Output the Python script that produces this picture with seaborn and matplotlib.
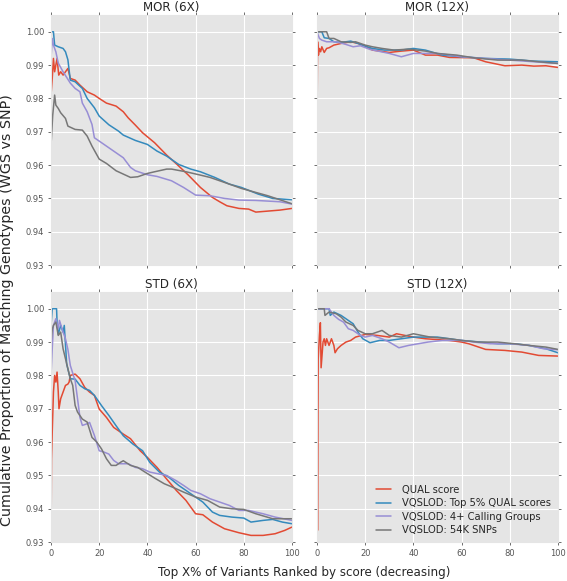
import matplotlib

matplotlib.use("Agg")
import matplotlib.pyplot as plt
import pandas as pd
import seaborn as sns

# ---------------------------------------------------
# Data
# ---------------------------------------------------
METHODS = [
    "QUAL score",
    "VQSLOD: Top 5% QUAL scores",
    "VQSLOD: 4+ Calling Groups",
    "VQSLOD: 54K SNPs",
]
COLORS = ["#E24A33", "#348ABD", "#988ED5", "#777777"]
PANELS = ["MOR (6X)", "MOR (12X)", "STD (6X)", "STD (12X)"]
X_TICKS = [0, 20, 40, 60, 80, 100]
Y_TICKS = [0.93, 0.94, 0.95, 0.96, 0.97, 0.98, 0.99, 1.00]

# MOR (6X)
MOR6_QUAL_X = [0, 0.5, 1, 1.5, 2, 2.5, 3.2, 4, 5, 7, 8, 10, 12, 15, 18, 20, 23, 27, 30, 32,
               35, 38, 43, 48, 52, 57, 62, 67, 70, 73, 78, 82, 85, 90, 95, 100]
MOR6_QUAL_Y = [0.981, 0.986, 0.992, 0.988, 0.990, 0.992, 0.987, 0.988, 0.987, 0.989, 0.986,
               0.9855, 0.984, 0.982, 0.981, 0.980, 0.9786, 0.9777, 0.976, 0.9742, 0.972,
               0.9697, 0.9667, 0.963, 0.9604, 0.957, 0.9533, 0.9503, 0.949, 0.9478, 0.947,
               0.9468, 0.9459, 0.9462, 0.9465, 0.947]
MOR6_TOP5_X = [0, 1, 1.5, 3, 5, 6, 7, 8, 10, 13, 15, 18, 20, 24, 28, 30, 35, 40, 44, 48, 53,
               58, 62, 68, 74, 79, 86, 92, 100]
MOR6_TOP5_Y = [1.000, 1.000, 0.996, 0.9955, 0.995, 0.994, 0.9916, 0.9855, 0.985, 0.983, 0.980,
               0.9772, 0.9747, 0.9721, 0.9702, 0.969, 0.9674, 0.9662, 0.9642, 0.9627, 0.9602,
               0.9588, 0.958, 0.9563, 0.9543, 0.9533, 0.9513, 0.950, 0.9496]
MOR6_CALL_X = [0, 0.5, 1, 2, 3, 5, 8, 10, 12, 13, 15, 17, 18, 21, 25, 30, 33, 35, 40, 44, 50,
               55, 60, 66, 72, 78, 85, 95, 100]
MOR6_CALL_Y = [0.992, 0.998, 0.996, 0.994, 0.9906, 0.988, 0.9846, 0.983, 0.982, 0.9786, 0.976,
               0.9722, 0.9682, 0.9667, 0.9647, 0.9622, 0.9593, 0.9583, 0.9571, 0.9566, 0.9553,
               0.9533, 0.951, 0.9508, 0.950, 0.9495, 0.9494, 0.949, 0.9483]
MOR6_SNP_X = [0, 0.7, 1.5, 2, 3, 4, 6, 7, 10, 13, 15, 17, 20, 23, 27, 30, 33, 36, 40, 43, 48,
              50, 56, 62, 66, 70, 74, 79, 84, 90, 100]
MOR6_SNP_Y = [0.966, 0.975, 0.981, 0.978, 0.977, 0.9757, 0.974, 0.9717, 0.9707, 0.9705, 0.9687,
              0.9657, 0.9618, 0.9605, 0.9583, 0.9573, 0.9563, 0.9565, 0.9575, 0.958, 0.9588,
              0.9588, 0.958, 0.957, 0.9563, 0.9553, 0.9543, 0.953, 0.952, 0.9508, 0.9484]

# MOR (12X)
MOR12_QUAL_X = [0, 0.1, 0.25, 0.6, 1, 1.5, 2, 3, 4, 5, 7, 10, 14, 17, 20, 23, 30, 35, 40, 45,
                50, 55, 65, 70, 78, 85, 90, 95, 100]
MOR12_QUAL_Y = [1.0, 0.982, 0.997, 0.993, 0.995, 0.994, 0.9955, 0.9938, 0.995, 0.9952, 0.996,
                0.9965, 0.997, 0.9965, 0.9957, 0.9945, 0.9938, 0.9942, 0.9945, 0.993, 0.993,
                0.9923, 0.9922, 0.991, 0.9898, 0.990, 0.9897, 0.9898, 0.9893]
MOR12_TOP5_X = [0, 2, 3, 5, 7, 10, 14, 17, 20, 23, 28, 35, 40, 45, 52, 60, 70, 80, 90, 100]
MOR12_TOP5_Y = [1.0, 1.0, 0.9982, 0.998, 0.997, 0.9968, 0.9972, 0.9965, 0.9957, 0.995, 0.9945,
                0.9945, 0.995, 0.9945, 0.993, 0.9925, 0.992, 0.9918, 0.9912, 0.991]
MOR12_CALL_X = [0, 1, 2, 4, 8, 12, 15, 18, 22, 30, 35, 40, 50, 60, 70, 80, 90, 100]
MOR12_CALL_Y = [1.0, 0.998, 0.9975, 0.997, 0.997, 0.9962, 0.9955, 0.9958, 0.9947, 0.9935,
                0.9925, 0.9935, 0.9935, 0.9925, 0.992, 0.9915, 0.991, 0.9905]
MOR12_SNP_X = [0, 4, 5, 7, 10, 14, 16, 20, 23, 27, 32, 38, 45, 50, 58, 65, 75, 85, 92, 100]
MOR12_SNP_Y = [1.0, 1.0, 0.998, 0.998, 0.997, 0.9968, 0.997, 0.996, 0.9955, 0.995, 0.9945,
               0.9948, 0.9942, 0.9935, 0.993, 0.9922, 0.9915, 0.9915, 0.991, 0.9905]

# STD (6X)
STD6_QUAL_X = [0, 0.2, 0.5, 1, 1.5, 2, 2.5, 3, 3.3, 4, 5, 6, 7, 7.5, 8, 10, 12, 14, 16, 18,
               20, 23, 26, 30, 33, 37, 40, 44, 48, 52, 56, 60, 63, 67, 72, 78, 83, 88, 93, 97, 100]
STD6_QUAL_Y = [0.929, 0.955, 0.963, 0.975, 0.980, 0.978, 0.981, 0.975, 0.970, 0.973, 0.975,
               0.977, 0.9774, 0.978, 0.980, 0.9804, 0.979, 0.9764, 0.975, 0.974, 0.9699,
               0.9674, 0.9644, 0.9624, 0.961, 0.9574, 0.9554, 0.9524, 0.9489, 0.9455, 0.9425,
               0.9385, 0.9382, 0.936, 0.934, 0.9328, 0.932, 0.932, 0.9325, 0.9335, 0.9345]
STD6_TOP5_X = [0, 0.5, 2.3, 2.5, 3, 4, 5, 5.5, 6.5, 8, 10, 12, 14, 16, 18, 21, 24, 27, 30, 34,
               38, 41, 45, 49, 53, 57, 60, 63, 67, 70, 75, 80, 83, 88, 92, 96, 100]
STD6_TOP5_Y = [0.995, 1.0, 1.0, 0.996, 0.9923, 0.995, 0.993, 0.995, 0.9834, 0.979, 0.9789,
               0.977, 0.976, 0.9755, 0.974, 0.9709, 0.968, 0.9649, 0.9619, 0.9594, 0.9574,
               0.9539, 0.951, 0.9494, 0.947, 0.945, 0.9435, 0.942, 0.939, 0.938, 0.9375,
               0.9372, 0.936, 0.9365, 0.9368, 0.936, 0.9355]
STD6_CALL_X = [0, 0.5, 1, 2, 3, 3.5, 5, 6, 7, 8, 10, 11, 12, 13, 15, 16, 18, 20, 22, 24, 26,
               28, 32, 35, 38, 41, 45, 48, 52, 55, 58, 62, 66, 70, 74, 78, 82, 88, 93, 100]
STD6_CALL_Y = [0.980, 0.988, 0.995, 0.997, 0.994, 0.9965, 0.993, 0.991, 0.9878, 0.983, 0.9784,
               0.973, 0.9674, 0.965, 0.9655, 0.9659, 0.962, 0.9574, 0.957, 0.9564, 0.9545,
               0.9535, 0.9535, 0.9524, 0.952, 0.951, 0.9504, 0.950, 0.9484, 0.947, 0.9455,
               0.9445, 0.943, 0.942, 0.941, 0.9395, 0.9395, 0.9385, 0.9375, 0.9365]
STD6_SNP_X = [0, 0.5, 1, 2, 3, 4, 5, 6, 7, 8, 9, 10, 11, 13, 15, 17, 19, 21, 23, 25, 27, 29,
              30, 33, 36, 39, 43, 47, 51, 55, 60, 65, 70, 75, 80, 85, 92, 100]
STD6_SNP_Y = [0.990, 0.9938, 0.995, 0.996, 0.992, 0.993, 0.988, 0.985, 0.982, 0.979, 0.977,
              0.971, 0.969, 0.9669, 0.966, 0.9614, 0.960, 0.9579, 0.955, 0.953, 0.953, 0.954,
              0.9544, 0.953, 0.9524, 0.951, 0.9492, 0.9475, 0.9463, 0.945, 0.9435, 0.9425,
              0.9405, 0.940, 0.9398, 0.9385, 0.937, 0.937]

# STD (12X)
STD12_QUAL_X = [0, 0.2, 0.5, 1.0, 1.4, 1.7, 2.5, 3, 3.5, 4, 5, 6, 7, 7.5, 8.5, 10, 12, 14, 16,
                20, 25, 30, 33, 40, 45, 55, 60, 63, 70, 78, 85, 92, 100]
STD12_QUAL_Y = [1.0, 0.9335, 0.985, 0.992, 0.9958, 0.9823, 0.990, 0.991, 0.989, 0.991, 0.989,
                0.991, 0.989, 0.9868, 0.988, 0.989, 0.990, 0.9905, 0.9915, 0.9923, 0.992,
                0.9915, 0.9925, 0.9915, 0.991, 0.9905, 0.990, 0.9895, 0.9878, 0.9875, 0.987,
                0.986, 0.9858]
STD12_TOP5_X = [0, 5, 5.5, 7, 10, 12, 15, 17, 19, 22, 26, 30, 35, 40, 50, 55, 60, 68, 75, 82,
                88, 95, 100]
STD12_TOP5_Y = [1.0, 1.0, 0.998, 0.999, 0.998, 0.997, 0.9955, 0.993, 0.991, 0.9898, 0.9905,
                0.9905, 0.991, 0.9915, 0.9915, 0.991, 0.9905, 0.990, 0.9895, 0.9895, 0.989,
                0.988, 0.9868]
STD12_CALL_X = [0, 5, 7, 9, 11, 13, 15, 18, 20, 23, 27, 30, 34, 38, 42, 46, 52, 60, 65, 72,
                80, 88, 94, 100]
STD12_CALL_Y = [1.0, 1.0, 0.998, 0.9968, 0.996, 0.994, 0.9935, 0.992, 0.9915, 0.992, 0.991,
                0.990, 0.9883, 0.989, 0.9895, 0.990, 0.9905, 0.9905, 0.990, 0.9895, 0.9895,
                0.989, 0.988, 0.9877]
STD12_SNP_X = [0, 3, 3.3, 5, 8, 10, 12, 15, 17, 20, 23, 27, 30, 35, 40, 47, 55, 60, 67, 75,
               82, 88, 95, 100]
STD12_SNP_Y = [1.0, 1.0, 0.998, 0.999, 0.9985, 0.9975, 0.996, 0.995, 0.9935, 0.9925, 0.9925,
               0.9935, 0.992, 0.9915, 0.9925, 0.9915, 0.991, 0.9905, 0.990, 0.990, 0.9895,
               0.989, 0.9885, 0.9878]

SERIES = {
    "MOR (6X)": [(MOR6_QUAL_X, MOR6_QUAL_Y), (MOR6_TOP5_X, MOR6_TOP5_Y),
                 (MOR6_CALL_X, MOR6_CALL_Y), (MOR6_SNP_X, MOR6_SNP_Y)],
    "MOR (12X)": [(MOR12_QUAL_X, MOR12_QUAL_Y), (MOR12_TOP5_X, MOR12_TOP5_Y),
                  (MOR12_CALL_X, MOR12_CALL_Y), (MOR12_SNP_X, MOR12_SNP_Y)],
    "STD (6X)": [(STD6_QUAL_X, STD6_QUAL_Y), (STD6_TOP5_X, STD6_TOP5_Y),
                 (STD6_CALL_X, STD6_CALL_Y), (STD6_SNP_X, STD6_SNP_Y)],
    "STD (12X)": [(STD12_QUAL_X, STD12_QUAL_Y), (STD12_TOP5_X, STD12_TOP5_Y),
                  (STD12_CALL_X, STD12_CALL_Y), (STD12_SNP_X, STD12_SNP_Y)],
}

# long-form table for seaborn
rows = []
for panel, series in SERIES.items():
    for method, (xs, ys) in zip(METHODS, series):
        for x, y in zip(xs, ys):
            rows.append({"panel": panel, "method": method, "x": x, "y": y})
df = pd.DataFrame(rows)

# ---------------------------------------------------
# Plot
# ---------------------------------------------------
sns.set_style("darkgrid", {
    "axes.facecolor": "#E5E5E5",
    "axes.edgecolor": "#E5E5E5",
    "grid.color": "white",
    "grid.linewidth": 0.8,
})
plt.rcParams["font.family"] = ["DejaVu Sans"]

fig, axes = plt.subplots(2, 2, figsize=(5.67, 5.81), dpi=100, sharex=True, sharey=True)
fig.subplots_adjust(left=0.090, right=0.984, top=0.974, bottom=0.067, wspace=0.104, hspace=0.108)

palette = dict(zip(METHODS, COLORS))
for ax, panel in zip(axes.flat, PANELS):
    sub = df[df["panel"] == panel]
    sns.lineplot(
        data=sub, x="x", y="y", hue="method", hue_order=METHODS, palette=palette,
        estimator=None, sort=False, linewidth=1.1, ax=ax,
        legend=(panel == "STD (12X)"),
    )
    ax.set_title(panel, fontsize=8.6, pad=3)
    ax.set_xlim(0, 100)
    ax.set_ylim(0.93, 1.005)
    ax.set_xticks(X_TICKS)
    ax.set_yticks(Y_TICKS)
    ax.set_yticklabels([f"{v:.2f}" for v in Y_TICKS])
    ax.set_xlabel("")
    ax.set_ylabel("")
    ax.tick_params(which="both", direction="out", length=2.5, width=0.6, pad=2.5,
                   colors="#555555", labelsize=6, top=True, right=True, bottom=True, left=True)

leg = axes[1, 1].legend(
    loc="lower right", frameon=False, fontsize=7.2, handlelength=1.5,
    handletextpad=1.1, labelspacing=0.35, borderaxespad=0.3,
)

fig.text(0.012, 0.466, "Cumulative Proportion of Matching Genotypes (WGS vs SNP)",
         rotation=90, ha="center", va="center", fontsize=10.3)
fig.text(0.536, 0.003, "Top X% of Variants Ranked by score (decreasing)",
         ha="center", va="bottom", fontsize=8.6)

plt.savefig("out.png", dpi=100)
plt.close()
